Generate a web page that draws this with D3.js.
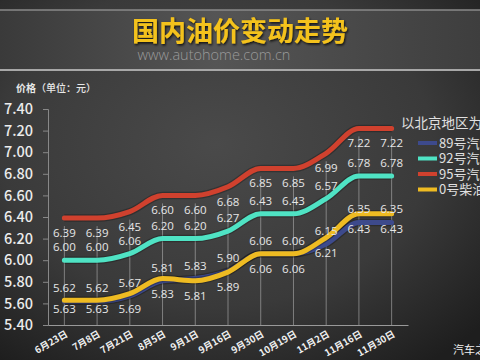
<!DOCTYPE html>
<html><head><meta charset="utf-8">
<script src="https://cdn.jsdelivr.net/npm/d3@7"></script>
<style>html,body{margin:0;padding:0;background:#333;}svg{display:block;}</style>
</head><body>
<script>
const dates = ["6月23日","7月8日","7月21日","8月5日","9月1日","9月16日","9月30日","10月19日","11月2日","11月16日","11月30日"];
const gas95 = [6.39,6.39,6.45,6.60,6.60,6.68,6.85,6.85,6.99,7.22,7.22];
const gas92 = [6.00,6.00,6.06,6.20,6.20,6.27,6.43,6.43,6.57,6.78,6.78];
const gas89 = [5.62,5.62,5.67,5.81,5.83,5.90,6.06,6.06,6.15,6.35,6.35];
const diesel0 = [5.63,5.63,5.69,5.83,5.81,5.89,6.06,6.06,6.21,6.43,6.43];
const yTicks = [5.4,5.6,5.8,6.0,6.2,6.4,6.6,6.8,7.0,7.2,7.4];
const seriesNames = ["89号汽油","92号汽油","95号汽油","0号柴油"];
const seriesColors = ["#3d4a8c","#4fe3c4","#d0412e","#eebb22"];

const W=480,H=360;
const svg=d3.select("body").append("svg").attr("width",W).attr("height",H);
const defs=svg.append("defs");
const rg=defs.append("radialGradient").attr("id","bg").attr("cx","45%").attr("cy","40%").attr("r","75%");
rg.append("stop").attr("offset","0%").attr("stop-color","#4a4a4a");
rg.append("stop").attr("offset","60%").attr("stop-color","#3a3a3a");
rg.append("stop").attr("offset","100%").attr("stop-color","#1e1e1e");
const hg=defs.append("linearGradient").attr("id","hdr").attr("x1",0).attr("x2",1).attr("y1",0).attr("y2",0);
hg.append("stop").attr("offset","0%").attr("stop-color","#3a3a3a");
hg.append("stop").attr("offset","45%").attr("stop-color","#555");
hg.append("stop").attr("offset","100%").attr("stop-color","#3e3e3e");
const sh=defs.append("filter").attr("id","sh").attr("x","-10%").attr("y","-20%").attr("width","130%").attr("height","150%");
sh.append("feDropShadow").attr("dx",1).attr("dy",1.5).attr("stdDeviation",0.8).attr("flood-color","#000").attr("flood-opacity",0.8);

svg.append("rect").attr("width",W).attr("height",H).attr("fill","url(#bg)");
svg.append("rect").attr("x",0).attr("y",10).attr("width",W).attr("height",60).attr("fill","url(#hdr)");
svg.append("line").attr("x1",0).attr("x2",W).attr("y1",10).attr("y2",10).attr("stroke","#8a8a8a").attr("stroke-width",1.5);
svg.append("line").attr("x1",0).attr("x2",W).attr("y1",70).attr("y2",70).attr("stroke","#a8a8a8").attr("stroke-width",2);

svg.append("text").attr("x",240).attr("y",41).attr("text-anchor","middle")
  .attr("font-family","Noto Sans CJK SC").attr("font-weight",700).attr("font-size",27)
  .attr("fill","#f4c21c").attr("filter","url(#sh)").text("国内油价变动走势");
svg.append("text").attr("x",214).attr("y",60).attr("text-anchor","middle")
  .attr("font-family","Open Sans, Noto Sans").attr("font-weight",300).attr("font-size",14.5)
  .attr("fill","#9a9a9a").text("www.autohome.com.cn");

const x=d3.scaleBand().domain(dates).range([48,408]);
const y=d3.scaleLinear().domain([5.4,7.4]).range([325,109]);
const cx=d=>x(d)+x.bandwidth()/2;

// drop lines
svg.append("g").selectAll("line").data(dates).join("line")
  .attr("x1",d=>cx(d)).attr("x2",d=>cx(d))
  .attr("y1",(d,i)=>y(gas95[i])+8).attr("y2",325)
  .attr("stroke","#bbb").attr("stroke-opacity",0.55).attr("stroke-width",1);

// axes
const ya=svg.append("g").attr("transform","translate(48,0)")
  .call(d3.axisLeft(y).tickValues(yTicks).tickFormat(d3.format(".2f")).tickSize(5).tickPadding(10));
ya.select(".domain").attr("stroke","#888");
ya.selectAll(".tick line").attr("stroke","#888");
ya.selectAll(".tick text").attr("fill","#ececec").attr("font-size",14.5)
  .attr("font-family","Noto Sans CJK SC").attr("font-weight",500);

const xa=svg.append("g").attr("transform","translate(0,325)")
  .call(d3.axisBottom(x).tickSize(0).tickPadding(0));
xa.select(".domain").attr("stroke","#999").attr("stroke-width",1);
xa.selectAll(".tick text").attr("fill","#f0f0f0").attr("font-size",9.5)
  .attr("font-family","Noto Sans CJK SC").attr("font-weight",700)
  .attr("text-anchor","end").attr("dy",0)
  .attr("transform","translate(4,11) rotate(-30)");

svg.append("text").attr("x",16).attr("y",92).attr("font-family","Noto Sans CJK SC").attr("font-size",10)
  .attr("fill","#e8e8e8")
  .call(t=>{t.append("tspan").attr("font-weight",700).text("价格");t.append("tspan").attr("font-weight",500).text("（单位：元）");});

// lines
const seriesData=[gas89,gas92,gas95,diesel0];
const lineGen=d3.line().x((d,i)=>cx(dates[i])).y(d=>y(d)).curve(d3.curveMonotoneX);
const order=[0,3,1,2];
order.forEach(k=>{
  svg.append("path").attr("d",lineGen(seriesData[k])).attr("fill","none")
    .attr("stroke","#000").attr("stroke-opacity",0.25).attr("stroke-width",7.5).attr("stroke-linejoin","round");
  svg.append("path").attr("d",lineGen(seriesData[k])).attr("fill","none")
    .attr("stroke",seriesColors[k]).attr("stroke-width",5).attr("stroke-linejoin","round").attr("stroke-linecap","round");
});

// labels: 95 below, 92 above, 89 above, diesel below
const lblCfg=[[gas95,15],[gas92,-13],[gas89,-13],[diesel0,15]];
const lg=svg.append("g").attr("font-family","Open Sans, Noto Sans").attr("font-size",11.5).attr("fill","#e6e6e6").attr("text-anchor","middle");
lblCfg.forEach(([arr,off])=>{
  lg.append("g").selectAll("text").data(arr).join("text")
    .attr("x",(d,i)=>cx(dates[i]))
    .attr("y",d=>Math.min(y(d)+off,309))
    .attr("dy","0.35em").text(d=>d3.format(".2f")(d));
});

// legend
svg.append("text").attr("x",401).attr("y",128).attr("font-family","Noto Sans CJK SC").attr("font-size",13.5)
  .attr("fill","#e0e0e0").text("以北京地区为例");
const leg=svg.append("g");
seriesNames.forEach((n,i)=>{
  const yy=143+i*15.5;
  leg.append("line").attr("x1",418).attr("x2",437).attr("y1",yy).attr("y2",yy)
    .attr("stroke",seriesColors[i]).attr("stroke-width",4);
  leg.append("text").attr("x",439).attr("y",yy).attr("dy","0.36em").attr("font-family","Noto Sans CJK SC")
    .attr("font-size",13).attr("fill","#e0e0e0").text(n);
});

svg.append("text").attr("x",453).attr("y",354).attr("font-family","Noto Sans CJK SC").attr("font-size",11)
  .attr("fill","#f0f0f0").text("汽车之家");
</script>
</body></html>
